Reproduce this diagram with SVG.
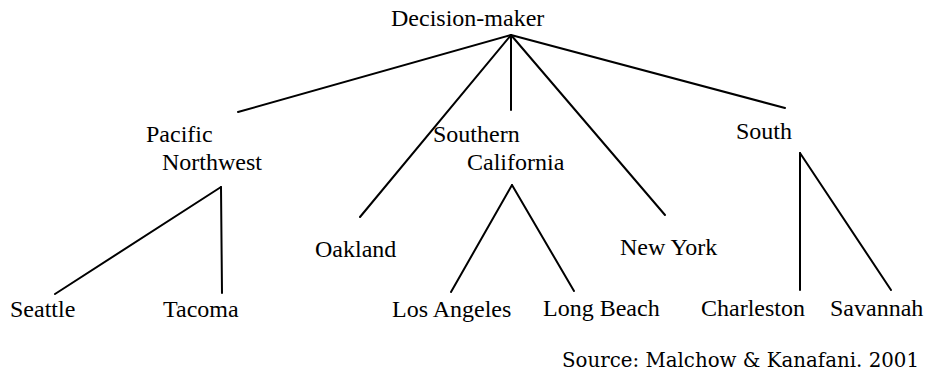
<svg xmlns="http://www.w3.org/2000/svg" width="928" height="374" viewBox="0 0 928 374">
<style>
.t{font-family:"Liberation Serif","Times New Roman",serif;font-size:24px;fill:#000}
.src{font-family:"DejaVu Serif","Liberation Serif",serif;font-size:20px;fill:#000}
#connectors line{stroke:#000;stroke-width:2;stroke-linecap:round}
</style>
<rect width="928" height="374" fill="#fff"/>
<g id="connectors">
<line x1="511" y1="35" x2="238" y2="112"/>
<line x1="511" y1="35" x2="360" y2="217"/>
<line x1="511" y1="35" x2="511" y2="110"/>
<line x1="511" y1="35" x2="665" y2="215"/>
<line x1="511" y1="35" x2="785" y2="108"/>
<line x1="221" y1="187" x2="55" y2="294"/>
<line x1="221" y1="187" x2="222" y2="293"/>
<line x1="512" y1="185" x2="451" y2="292"/>
<line x1="512" y1="185" x2="574" y2="291"/>
<line x1="800" y1="153" x2="800" y2="290"/>
<line x1="800" y1="153" x2="891" y2="290"/>
</g>
<g id="decision-maker"><text class="t" x="391" y="26">Decision-maker</text></g>
<g id="pacific-northwest"><text class="t" x="146" y="142">Pacific</text><text class="t" x="162" y="170">Northwest</text></g>
<g id="southern-california"><text class="t" x="433" y="142">Southern</text><text class="t" x="467" y="170">California</text></g>
<g id="south"><text class="t" x="736" y="139">South</text></g>
<g id="oakland"><text class="t" x="315" y="257">Oakland</text></g>
<g id="new-york"><text class="t" x="620" y="255">New York</text></g>
<g id="seattle"><text class="t" x="10" y="317">Seattle</text></g>
<g id="tacoma"><text class="t" x="163" y="317">Tacoma</text></g>
<g id="los-angeles"><text class="t" x="392" y="317">Los Angeles</text></g>
<g id="long-beach"><text class="t" x="543" y="316">Long Beach</text></g>
<g id="charleston"><text class="t" x="701" y="316">Charleston</text></g>
<g id="savannah"><text class="t" x="830" y="316">Savannah</text></g>
<text class="src" x="562" y="367" textLength="357" lengthAdjust="spacingAndGlyphs">Source: Malchow &amp; Kanafani. 2001</text>
</svg>
